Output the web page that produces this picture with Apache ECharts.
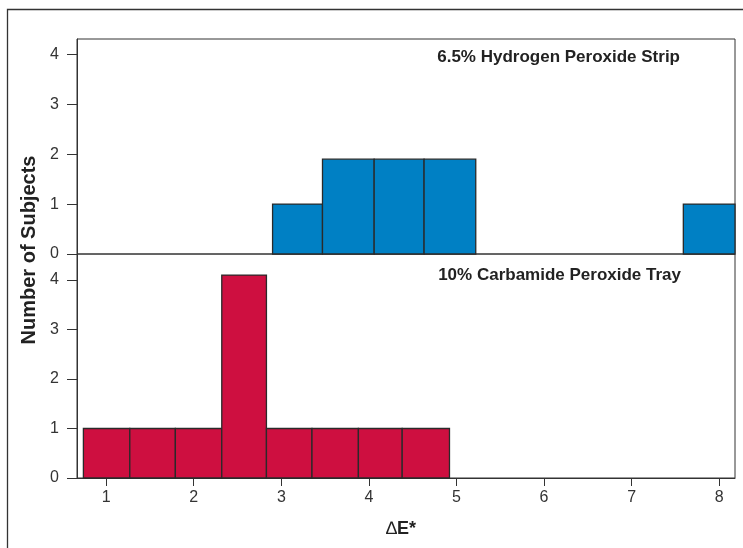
<!DOCTYPE html>
<html>
<head>
<meta charset="utf-8">
<script src="https://cdn.jsdelivr.net/npm/echarts@6/dist/echarts.min.js"></script>
<style>html,body{margin:0;padding:0;background:#fff}#c{width:743px;height:548px}</style>
</head>
<body>
<div id="c"></div>
<script>
// ΔE* bin edges and counts
var stripBinStart = [2.90, 3.47, 4.06, 4.63, 7.59];
var stripBinEnd   = [3.47, 4.06, 4.63, 5.22, 8.18];
var stripCounts   = [1, 1.9, 1.9, 1.9, 1];

var trayBinStart = [0.74, 1.27, 1.79, 2.32, 2.83, 3.35, 3.88, 4.38];
var trayBinEnd   = [1.27, 1.79, 2.32, 2.83, 3.35, 3.88, 4.38, 4.92];
var trayCounts   = [1, 1, 1, 4.1, 1, 1, 1, 1];

var xTicks = [1, 2, 3, 4, 5, 6, 7, 8];
var yTicks = [0, 1, 2, 3, 4];

var stripLabel = '6.5% Hydrogen Peroxide Strip';
var trayLabel = '10% Carbamide Peroxide Tray';
var yTitle = 'Number of Subjects';

function build(s, e, v) {
  return s.map(function (x, i) { return [x, e[i], v[i]]; });
}
function renderRect(params, api) {
  var p0 = api.coord([api.value(0), 0]);
  var p1 = api.coord([api.value(1), api.value(2)]);
  return {
    type: 'rect',
    shape: { x: p0[0], y: p1[1], width: p1[0] - p0[0], height: p0[1] - p1[1] },
    style: api.style()
  };
}
var font = '"Liberation Sans", Arial, sans-serif';
var chart = echarts.init(document.getElementById('c'));
var yAxisCommon = {
  type: 'value', min: 0, interval: 1,
  axisLine: { show: true, lineStyle: { color: '#333', width: 1 } },
  axisTick: { show: true, length: 10, lineStyle: { color: '#333' }, customValues: yTicks },
  axisLabel: { color: '#333', fontSize: 16, fontFamily: font, margin: 18, customValues: yTicks },
  splitLine: { show: false }
};
chart.setOption({
  animation: false,
  grid: [
    { left: 77, right: 8, top: 39, height: 215, show: true, borderColor: '#333', borderWidth: 1, backgroundColor: 'transparent' },
    { left: 77, right: 8, top: 254, bottom: 70, show: true, borderColor: '#333', borderWidth: 1, backgroundColor: 'transparent' }
  ],
  xAxis: [
    { gridIndex: 0, type: 'value', min: 0.667, max: 8.18, show: false },
    { gridIndex: 1, type: 'value', min: 0.667, max: 8.18,
      axisLine: { show: true, lineStyle: { color: '#333' } },
      axisTick: { show: true, length: 8, lineStyle: { color: '#333' }, customValues: xTicks },
      axisLabel: { color: '#333', fontSize: 16, fontFamily: font, margin: 12, customValues: xTicks },
      splitLine: { show: false } }
  ],
  yAxis: [
    Object.assign({ gridIndex: 0, max: 4.31 }, yAxisCommon),
    Object.assign({ gridIndex: 1, max: 4.525 }, yAxisCommon)
  ],
  series: [
    { type: 'custom', xAxisIndex: 0, yAxisIndex: 0, renderItem: renderRect,
      itemStyle: { color: '#0080C4', borderColor: '#2a2a2a', borderWidth: 1.3 },
      encode: { x: [0, 1], y: 2 }, data: build(stripBinStart, stripBinEnd, stripCounts) },
    { type: 'custom', xAxisIndex: 1, yAxisIndex: 1, renderItem: renderRect,
      itemStyle: { color: '#CE0F40', borderColor: '#2a2a2a', borderWidth: 1.3 },
      encode: { x: [0, 1], y: 2 }, data: build(trayBinStart, trayBinEnd, trayCounts) }
  ],
  graphic: [
    { type: 'rect', shape: { x: 7.5, y: 9.5, width: 800, height: 600 }, style: { fill: 'none', stroke: '#333', lineWidth: 1.3 }, silent: true, z: -1 },
    { type: 'text', x: 680, y: 57, style: { text: stripLabel, font: 'bold 17px ' + font, fill: '#222', textAlign: 'right', textVerticalAlign: 'middle' } },
    { type: 'text', x: 681, y: 275, style: { text: trayLabel, font: 'bold 17px ' + font, fill: '#222', textAlign: 'right', textVerticalAlign: 'middle' } },
    { type: 'text', x: 401, y: 529, style: {
        text: '{a|\u2206}{b|E*}', textAlign: 'center', textVerticalAlign: 'middle',
        rich: { a: { font: '18px ' + font, fill: '#222' }, b: { font: 'bold 18px ' + font, fill: '#222' } } } },
    { type: 'text', x: 29, y: 250, rotation: Math.PI / 2, style: { text: yTitle, font: 'bold 20px ' + font, fill: '#222', textAlign: 'center', textVerticalAlign: 'middle' } }
  ]
});
</script>
</body>
</html>
